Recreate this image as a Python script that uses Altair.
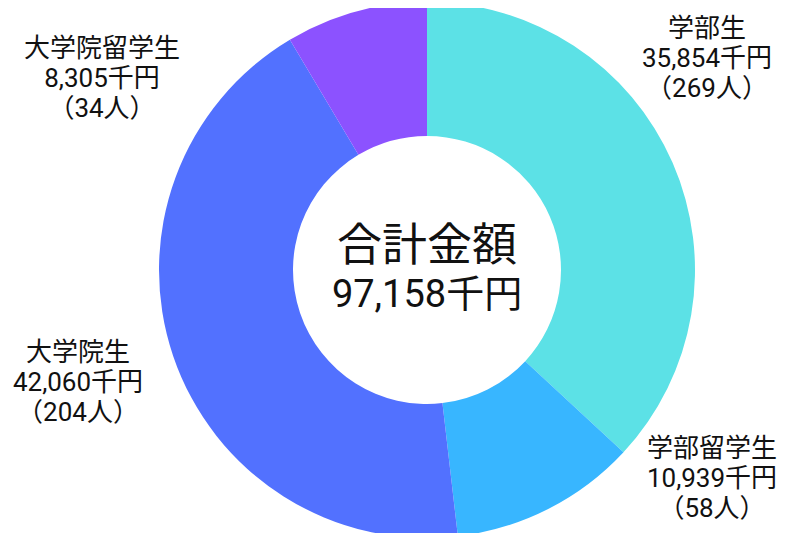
import altair as alt
import pandas as pd

categories = ["学部生", "学部留学生", "大学院生", "大学院留学生"]
amounts = [35854, 10939, 42060, 8305]  # 千円
people = [269, 58, 204, 34]
colors = ["#5CE1E6", "#38B6FF", "#5271FF", "#8C52FF"]
center_title = "合計金額"
unit = "千円"

df = pd.DataFrame({
    "category": categories,
    "amount": amounts,
    "people": people,
    "idx": list(range(len(categories))),
})
df["label"] = [f"{c}\n{a:,}{unit}\n（{p}人）" for c, a, p in zip(categories, amounts, people)]

FONT = "Roboto, 'Noto Sans CJK JP', sans-serif"
W, H = 786, 525
CX, CY = 419, 262
R_OUT, R_IN = 268, 134

arc = alt.Chart(df).mark_arc(x=CX, y=CY, outerRadius=R_OUT, innerRadius=R_IN).encode(
    theta=alt.Theta("amount:Q", stack=True),
    color=alt.Color("category:N", scale=alt.Scale(domain=categories, range=colors), legend=None),
    order=alt.Order("idx:Q"),
)

# anchor = centre of the first line of each label block
label_anchor = {
    "学部生": (699, 21),
    "学部留学生": (704, 441),
    "大学院生": (70, 345),
    "大学院留学生": (94, 41),
}

layers = [arc]
for c in categories:
    lx, ly = label_anchor[c]
    layers.append(
        alt.Chart(df).transform_filter(alt.datum.category == c).mark_text(
            x=lx, y=ly, lineBreak="\n", lineHeight=30, fontSize=26, font=FONT,
            align="center", baseline="middle", color="#111111",
        ).encode(text="label:N")
    )

title_txt = alt.Chart(df).transform_aggregate(n="count()").transform_calculate(
    t=f"'{center_title}'"
).mark_text(x=CX, y=239, fontSize=45, font=FONT, align="center", baseline="middle", color="#111111").encode(
    text="t:N"
)
total_txt = alt.Chart(df).transform_aggregate(total="sum(amount)").transform_calculate(
    t=f"format(datum.total, ',') + '{unit}'"
).mark_text(x=CX, y=288, fontSize=38, font=FONT, align="center", baseline="middle", color="#111111").encode(
    text="t:N"
)
layers += [title_txt, total_txt]

chart = alt.layer(*layers).properties(
    width=W, height=H, padding=0, autosize="none"
).configure_view(stroke=None)

chart.save("out.html", embed_options={"renderer": "svg", "actions": False})
